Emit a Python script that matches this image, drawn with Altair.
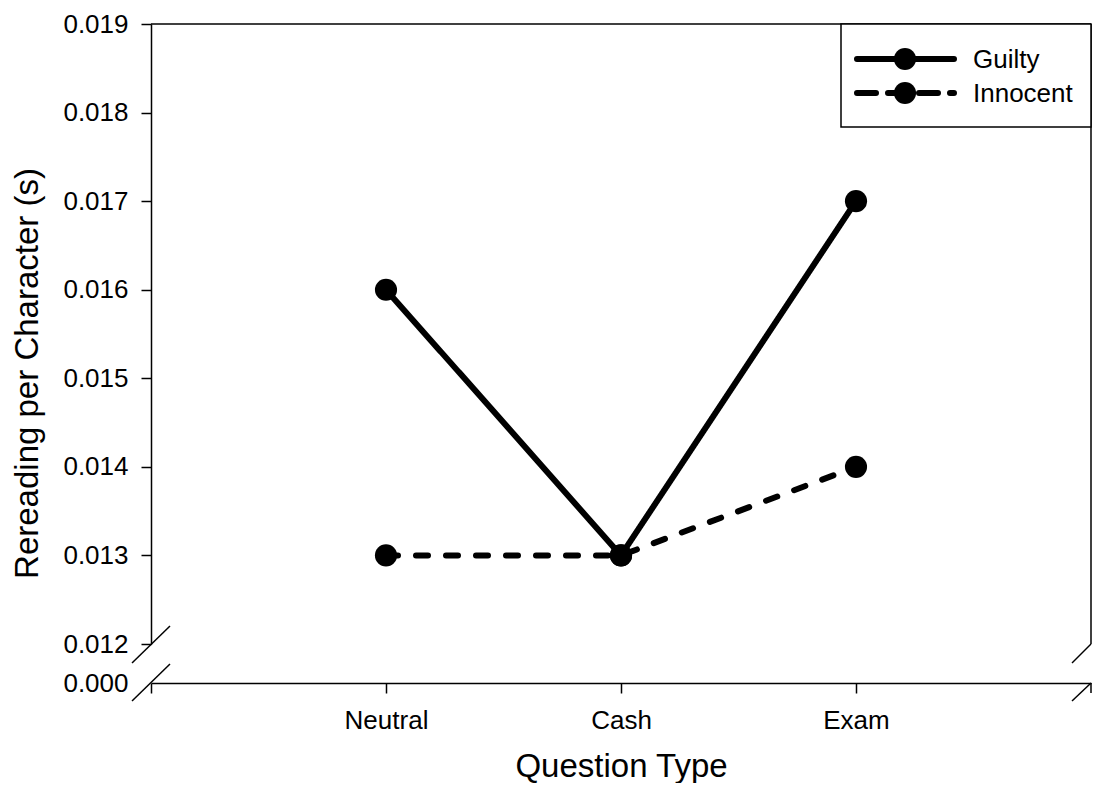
import altair as alt
import pandas as pd

categories = ["Neutral", "Cash", "Exam"]
series = ["Guilty", "Innocent"]
guilty = [0.016, 0.013, 0.017]
innocent = [0.013, 0.013, 0.014]
y_ticks = [0.012, 0.013, 0.014, 0.015, 0.016, 0.017, 0.018, 0.019]
y_low_ticks = [0.0]
x_title = "Question Type"
y_title = "Rereading per Character (s)"

rows = []
for s, vals in zip(series, [guilty, innocent]):
    for c, v in zip(categories, vals):
        rows.append({"question": c, "series": s, "value": v})
df = pd.DataFrame(rows)

W, H = 940, 620
FONT = "Liberation Sans"
LBL = 26
TTL = 33
dash_range = [[1, 0], [12, 18]]

xscale = alt.Scale(type="point", domain=categories, padding=1)
yscale = alt.Scale(domain=[0.012, 0.019], nice=False, zero=False)

yaxis = alt.Axis(values=y_ticks, format=".3f", tickSize=10, labelPadding=13,
                 labelFontSize=LBL, title=y_title, titleFontSize=TTL,
                 titleAngle=270, titleBaseline="alphabetic", titleAlign="center",
                 titleX=-114, titleY=349, grid=False)

base = alt.Chart(df)
lines = base.mark_line(color="black", strokeWidth=6, strokeCap="round").encode(
    x=alt.X("question:N", scale=xscale, axis=None),
    y=alt.Y("value:Q", scale=yscale, axis=yaxis),
    strokeDash=alt.StrokeDash("series:N", scale=alt.Scale(domain=series, range=dash_range), legend=None),
    detail="series:N",
)
points = base.mark_circle(color="black", size=490, opacity=1).encode(
    x=alt.X("question:N", scale=xscale, axis=None),
    y=alt.Y("value:Q", scale=yscale, axis=yaxis),
)

deco = pd.DataFrame({"k": [0]})
def rule(**enc):
    return alt.Chart(deco).mark_rule(color="black", strokeWidth=1.5).encode(**enc)

top_border = rule(x=alt.value(0), x2=alt.value(W), y=alt.value(0))
right_border = rule(x=alt.value(W), y=alt.value(0), y2=alt.value(H))
slash_ul = rule(x=alt.value(-19), x2=alt.value(19), y=alt.value(H + 19), y2=alt.value(H - 18))
slash_ur = rule(x=alt.value(W - 19), x2=alt.value(W), y=alt.value(H + 19), y2=alt.value(H))

# legend
LX0, LX1, LY0, LY1 = 690, W, 0, 103
legend_box = alt.Chart(deco).mark_rect(fill="white", stroke="black", strokeWidth=1.5).encode(
    x=alt.value(LX0), x2=alt.value(LX1), y=alt.value(LY0), y2=alt.value(LY1))
legend_layers = [legend_box]
leg_dash = [[1, 0], [19, 12]]
for i, s in enumerate(series):
    yy = 35 + 34 * i
    legend_layers.append(
        alt.Chart(deco).mark_rule(color="black", strokeWidth=6, strokeCap="round",
                                  strokeDash=leg_dash[i]).encode(
            x=alt.value(706), x2=alt.value(803), y=alt.value(yy)))
    legend_layers.append(
        alt.Chart(deco).mark_circle(color="black", size=490, opacity=1).encode(
            x=alt.value(754), y=alt.value(yy)))
    legend_layers.append(
        alt.Chart(deco).mark_text(font=FONT, fontSize=LBL, align="left", baseline="middle",
                                  color="black").encode(
            x=alt.value(822), y=alt.value(yy + 1), text=alt.value(s)))

top = alt.layer(top_border, right_border, slash_ul, slash_ur, lines, points,
                *legend_layers).properties(width=W, height=H)

# lower (broken) segment with the x axis at 0.000
low_df = pd.DataFrame({"question": categories, "zero": [0.0] * len(categories)})
low_pts = alt.Chart(low_df).mark_point(opacity=0).encode(
    x=alt.X("question:N", scale=xscale,
            axis=alt.Axis(orient="bottom", offset=-10, tickSize=10, labelPadding=14,
                          labelFontSize=LBL, labelAngle=0, title=x_title, titleFontSize=TTL,
                          titleBaseline="alphabetic", titleY=93, grid=False)),
    y=alt.Y("zero:Q", scale=alt.Scale(domain=[-0.0001, 0.0], nice=False, zero=False),
            axis=alt.Axis(values=y_low_ticks, format=".3f", ticks=False, labelPadding=23,
                          labelFontSize=LBL, title=None, grid=False)),
)
LH = 10
low_right = rule(x=alt.value(W), y=alt.value(0), y2=alt.value(LH))
slash_ll = rule(x=alt.value(-19), x2=alt.value(19), y=alt.value(18), y2=alt.value(-19))
slash_lr = rule(x=alt.value(W - 19), x2=alt.value(W), y=alt.value(18), y2=alt.value(0))
low = alt.layer(low_pts, low_right, slash_ll, slash_lr).properties(width=W, height=LH)

chart = alt.vconcat(top, low, spacing=39, bounds="flush").properties(
    padding={"left": 3, "top": 3, "right": 0, "bottom": 0}
).configure_view(stroke=None).configure_axis(
    domainColor="black", tickColor="black", labelColor="black", titleColor="black",
    labelFont=FONT, titleFont=FONT, domainWidth=1.5, tickWidth=1.5,
    titleFontWeight="normal", grid=False
)

chart.save("out.html", embed_options={"renderer": "svg", "actions": False})
